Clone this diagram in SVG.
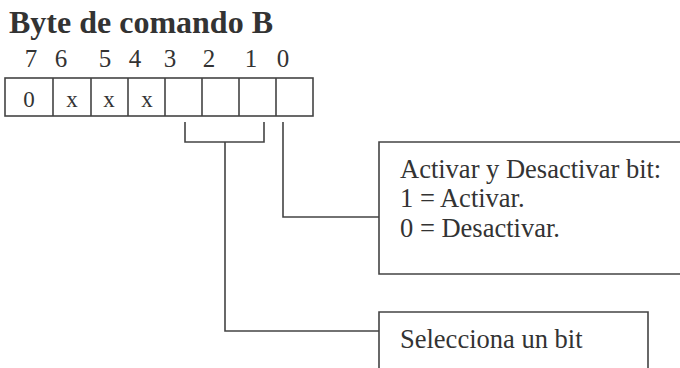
<svg xmlns="http://www.w3.org/2000/svg" width="680" height="368" viewBox="0 0 680 368">
<style>
.ln{fill:none;stroke:#444;stroke-width:1.6}
.t{font-family:"Liberation Serif","Times New Roman",serif;fill:#333}
.title{font-size:32px;font-weight:bold}
.d{font-size:25px;text-anchor:middle}
.c{font-size:23px;text-anchor:middle}
.b{font-size:26.5px}
</style>
<rect width="680" height="368" fill="#fff"/>
<text class="t title" x="9" y="33">Byte de comando B</text>
<g id="bitnumbers">
<text class="t d" x="31" y="67">7</text>
<text class="t d" x="61" y="67">6</text>
<text class="t d" x="105" y="67">5</text>
<text class="t d" x="135" y="67">4</text>
<text class="t d" x="170" y="67">3</text>
<text class="t d" x="209" y="67">2</text>
<text class="t d" x="251" y="67">1</text>
<text class="t d" x="283" y="67">0</text>
</g>
<g id="byte">
<rect class="ln" x="5" y="78" width="308" height="38"/>
<path class="ln" d="M53 78V116M91 78V116M128 78V116M165 78V116M202 78V116M239 78V116M276 78V116"/>
<text class="t c" x="29" y="107">0</text>
<text class="t c" x="72" y="107">x</text>
<text class="t c" x="109" y="107">x</text>
<text class="t c" x="147" y="107">x</text>
</g>
<g id="connectors">
<path class="ln" d="M283 122V217H379"/>
<path class="ln" d="M185 122V142H264V122"/>
<path class="ln" d="M225 142V331H379"/>
</g>
<g id="box-activar">
<path class="ln" d="M681 142H379V274H681"/>
<text class="t b" x="400" y="178">Activar y Desactivar bit:</text>
<text class="t b" x="400" y="207">1 = Activar.</text>
<text class="t b" x="400" y="237">0 = Desactivar.</text>
</g>
<g id="box-selecciona">
<path class="ln" d="M379 370V312H648V370"/>
<text class="t b" x="400" y="348">Selecciona un bit</text>
</g>
</svg>
